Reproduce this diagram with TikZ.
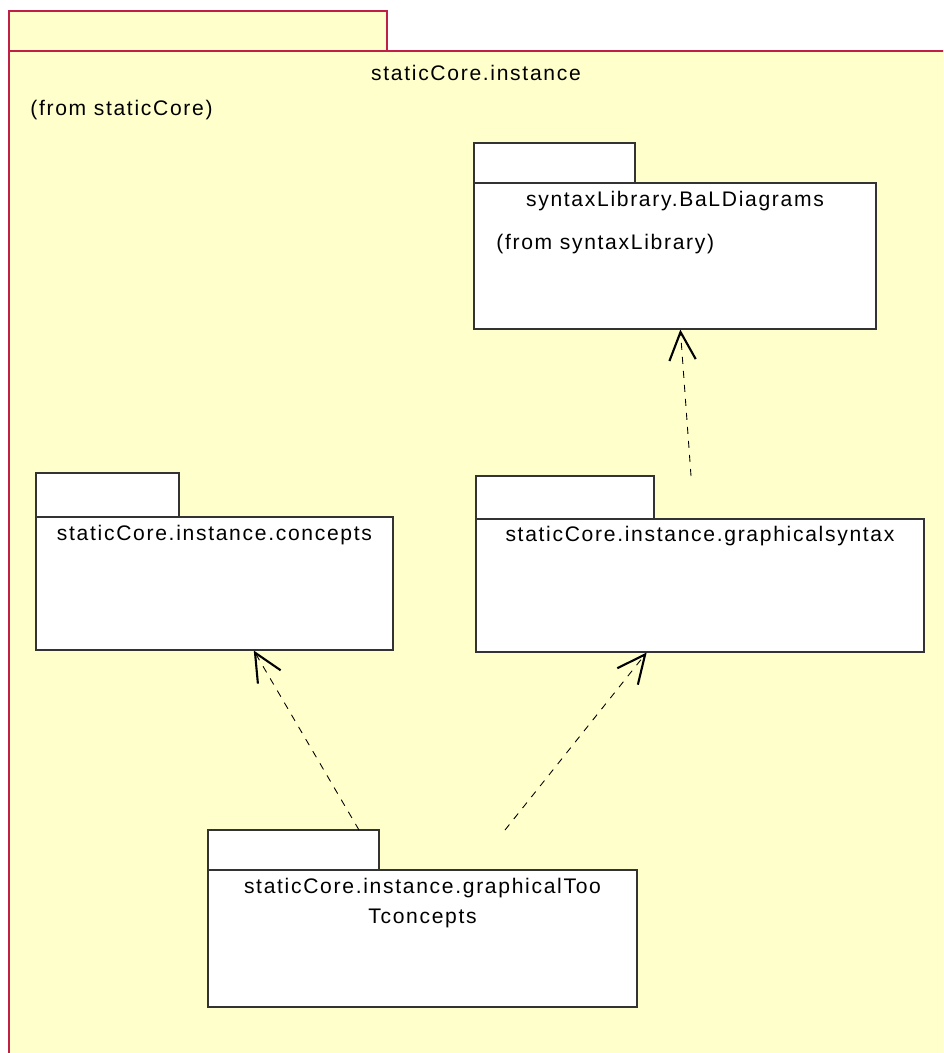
\documentclass[tikz,border=0pt]{standalone}
\usepackage{fontspec}
\newfontfamily\umlfont{Liberation Sans}[LetterSpace=8]
\usetikzlibrary{positioning}
\usetikzlibrary{fit}
\usetikzlibrary{arrows.meta}
\definecolor{pkgyellow}{RGB}{255,255,204}
\definecolor{pkgred}{RGB}{192,32,72}
\tikzset{outer/.style={draw=pkgred, fill=pkgyellow, inner sep=0pt, line width=0.6pt}}
\tikzset{pkg/.style={draw=black!80, fill=white, inner sep=0pt, line width=0.6pt}}
\tikzset{txt/.style={font=\umlfont\fontsize{12}{17}\selectfont, inner sep=0pt}}
\tikzset{dep/.style={dash pattern=on 4pt off 4pt, line width=0.5pt, -{Straight Barb[length=16pt,width=15pt,line width=1.2pt]}}}

\begin{document}
\begin{tikzpicture}[x=0.02cm, y=-0.02cm]
\useasboundingbox (0,0) rectangle (943,1053);
\clip (0,0) rectangle (943,1053);

\node[outer, fit={(9,11) (387,51)}] (core tab) {};
\node[outer, fit={(9,51) (960,1070)}] (core) {};
\node[txt] (core name) at (476,73) {staticCore.instance};
\node[txt, anchor=west] (core from) at (30,110) {(from staticCore)};

\node[pkg, fit={(474,143) (635,183)}] (bal tab) {};
\node[pkg, fit={(474,183) (876,329)}] (bal) {};
\node[txt, below=5pt of bal.north] (bal name) {syntaxLibrary.BaLDiagrams};
\node[txt, anchor=west] (bal from) at (496,244) {(from syntaxLibrary)};

\node[pkg, fit={(36,473) (179,517)}] (concepts tab) {};
\node[pkg, fit={(36,517) (393,650)}] (concepts) {};
\node[txt, below=5pt of concepts.north] (concepts name) {staticCore.instance.concepts};

\node[pkg, fit={(476,476) (654,519)}] (gsyntax tab) {};
\node[pkg, fit={(476,519) (924,652)}] (gsyntax) {};
\node[txt, below=4pt of gsyntax.north] (gsyntax name) {staticCore.instance.graphicalsyntax};

\node[pkg, fit={(208,830) (379,870)}] (gtool tab) {};
\node[pkg, fit={(208,870) (637,1007)}] (gtool) {};
\node[txt, align=center, below=5pt of gtool.north] (gtool name) {staticCore.instance.graphicalToo\\Tconcepts};

\coordinate (s1) at (359,830);
\coordinate (s2) at (505,830);
\coordinate (s3) at (691,476);
\draw[dep] (s1) -- (concepts);
\draw[dep] (s2) -- (gsyntax);
\draw[dep] (s3) -- (bal);
\end{tikzpicture}
\end{document}
